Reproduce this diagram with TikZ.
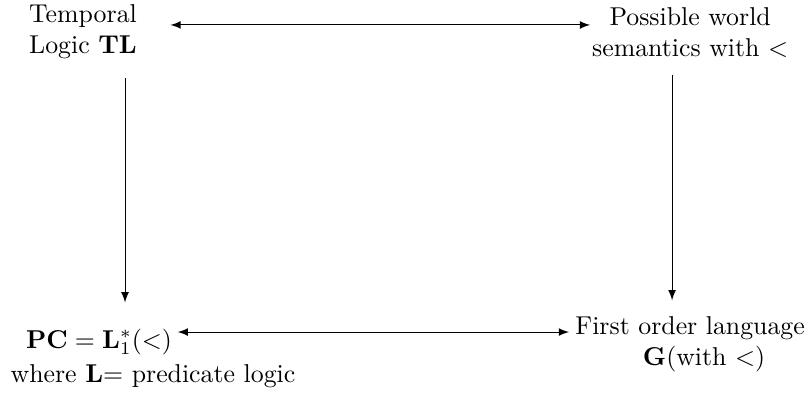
\documentclass[tikz,border=0pt]{standalone}
\usepackage{amsmath}
\usepackage{amssymb}
\usepackage{tikz}

\begin{document}
\begin{tikzpicture}[txt/.style={inner sep=0pt,align=center},
  dir/.style={->,>=latex},
  both/.style={<->,>=latex}]
\useasboundingbox (0,0) rectangle (11.02,5.34);
% Top row: the logic and its semantics
\node[txt] (tl) at (1.131,4.905) {Temporal\\Logic \textbf{TL}};
\node[txt] (tr) at (9.401,4.891) {Possible world\\semantics with $<$};
% Bottom row: the first order counterparts
\node[txt,anchor=base] (bl) at (1.349,0.599) {$\mathbf{PC}=\mathbf{L}_1^*(<)$};
\node[txt,anchor=base] (blnote) at (2.084,0.127) {where \textbf{L}= predicate logic};
\node[txt,anchor=base] (br) at (9.401,0.777) {First order language};
\node[txt,anchor=base] (brnote) at (9.591,0.368) {$\mathbf{G}$(with $<$)};
% Horizontal correspondences
\draw[both,shorten <=0.45cm,shorten >=0.02cm] ([yshift=0.095cm]tl.east) -- ([yshift=0.095cm]tl.east -| tr.west);
\draw[both,shorten <=0.07cm,shorten >=0.08cm] ([yshift=0.218cm]bl.base east) -- ([yshift=0.218cm]bl.base east -| br.west);
% Vertical translations
\draw[dir,shorten <=0.25cm,shorten >=0.35cm] ([xshift=0.572cm]tl.south) -- ([xshift=0.572cm]tl.south |- bl.north);
\draw[dir,shorten <=0.22cm,shorten >=0.22cm] ([xshift=-0.246cm]tr.south) -- ([xshift=-0.246cm]tr.south |- br.north);
\end{tikzpicture}
\end{document}
